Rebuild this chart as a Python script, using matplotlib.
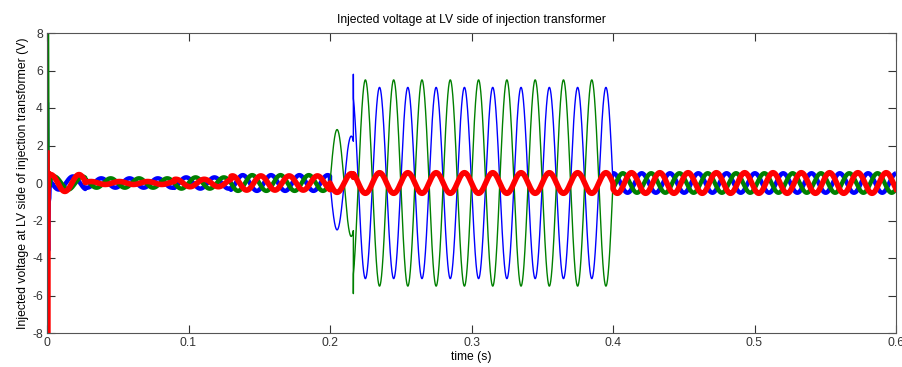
import numpy as np
import matplotlib.pyplot as plt

plt.rcParams['font.family'] = ['Liberation Sans', 'DejaVu Sans']
plt.rcParams['axes.unicode_minus'] = False

# supply frequency and sample step
freq = 50.0
dt = 2e-5

# start-up transient samples (s, V)
trans_t = [0.0, 0.0004, 0.0008, 0.0012, 0.0016, 0.002]
blue_trans = [4.3, -1.9, -3.6, -1.0, -0.8, 0.2]
green_trans = [9.0, 0.2, -0.3, 0.0, -0.2, 0.0]
red_trans = [1.6, -9.0, 0.4, 0.5, 0.5, 0.45]

# spike when the full injection kicks in
spike_t = 0.2165
blue_spike = 5.8
green_spike = -5.9
red_spike = 0.3

# piecewise segments: peak amplitude (V) and phase (deg) of the 50 Hz wave
seg_edges = [0.0025, 0.027, 0.09, 0.13, 0.2, 0.2165, 0.4, 0.6]
blue_amp = [0.35, 0.25, 0.3, 0.42, 2.5, 5.1, 0.52]
green_amp = [0.35, 0.25, 0.3, 0.42, 2.85, 5.5, 0.52]
red_amp = [0.45, 0.08, 0.2, 0.38, 0.5, 0.55, 0.55]
blue_phase = [330, 330, 330, 330, 270, 270, 5]
green_phase = [90, 90, 90, 90, 90, 90, 125]
red_phase = [47, 200, 200, 200, 270, 270, 235]

sag_start, sag_end = 0.2, 0.4


def build(amps, phases, trans_vals, spike_val):
    ts = [np.array(trans_t)]
    ys = [np.array(trans_vals)]
    for i in range(len(amps)):
        if seg_edges[i] == spike_t:
            ts.append(np.array([spike_t]))
            ys.append(np.array([spike_val]))
        t = np.arange(seg_edges[i], seg_edges[i + 1] + dt / 2, dt)
        ys.append(amps[i] * np.cos(2 * np.pi * freq * t - np.deg2rad(phases[i])))
        ts.append(t)
    return np.concatenate(ts), np.concatenate(ys)


fig = plt.figure(figsize=(9.03, 3.67), dpi=100)
ax = fig.add_axes([47 / 903, 1 - 333 / 367, 849 / 903, 300 / 367])

series = [
    (blue_amp, blue_phase, blue_trans, blue_spike, (0, 0, 1)),
    (green_amp, green_phase, green_trans, green_spike, (0, 0.5, 0)),
]
for amps, ph, tr, sp, col in series:
    t, y = build(amps, ph, tr, sp)
    sag = (t > sag_start) & (t < sag_end)
    edge = (t >= sag_start - dt) & (t <= sag_end + dt)
    ax.plot(t, np.where(~sag, y, np.nan), color=col, lw=3.2, solid_capstyle='butt')
    ax.plot(t, np.where(edge, y, np.nan), color=col, lw=1.0)

t, y = build(red_amp, red_phase, red_trans, red_spike)
ax.plot(t, y, color=(1, 0, 0), lw=4.0)

ax.set_xlim(0, 0.6)
ax.set_ylim(-8, 8)
ax.set_xticks([0, 0.1, 0.2, 0.3, 0.4, 0.5, 0.6])
ax.set_xticklabels(['0', '0.1', '0.2', '0.3', '0.4', '0.5', '0.6'])
ax.set_yticks(np.arange(-8, 9, 2))
ax.tick_params(direction='in', length=6, width=0.8, top=True, right=True,
               labelsize=8.7, colors='#333333', pad=3)
for s in ax.spines.values():
    s.set_color('#555555')
    s.set_linewidth(0.8)

ax.set_title('Injected voltage at LV side of injection transformer', fontsize=8.7, pad=7)
ax.set_xlabel('time (s)', fontsize=8.7, labelpad=1)
ax.set_ylabel('Injected voltage at LV side of injection transformer (V)', fontsize=8.8, labelpad=2)

fig.savefig('out.png', dpi=100, facecolor='white')
